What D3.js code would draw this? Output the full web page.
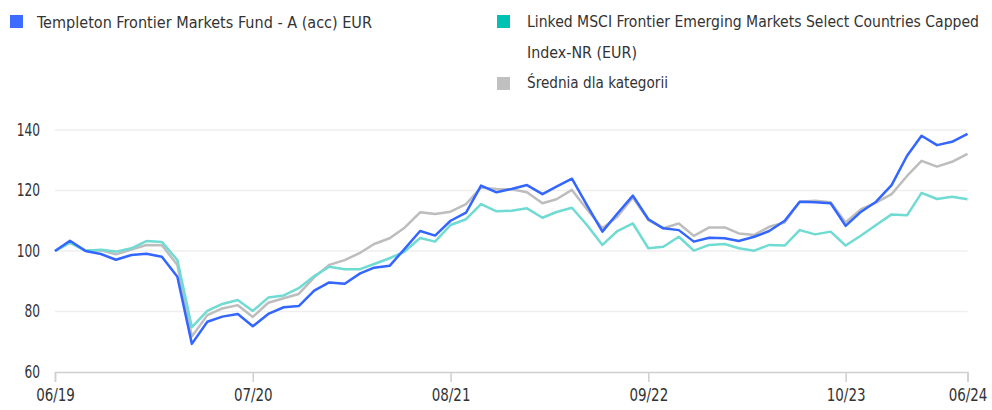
<!DOCTYPE html>
<html>
<head>
<meta charset="utf-8">
<script src="https://cdn.jsdelivr.net/npm/d3@7"></script>
<style>
  body { margin: 0; background: #fff; }
  text { font-family: "DejaVu Sans Condensed", "Liberation Sans Narrow", sans-serif; fill: #333; }
</style>
</head>
<body>
<div id="chart"></div>
<script>
"use strict"

// DATA (monthly, 06/2019 .. 06/2024)
let startMonth = new Date(2019, 5, 1);
let fund = [100, 103.4, 100.0, 99.0, 97.1, 98.7, 99.1, 98.1, 91.5, 69.3,
  76.6, 78.3, 79.2, 75.1, 79.2, 81.4, 81.8, 86.9, 89.6, 89.2,
  92.6, 94.5, 95.1, 100.7, 106.6, 105.1, 110.0, 112.7, 121.6, 119.4,
  120.5, 121.8, 118.8, 121.3, 123.9, 115.2, 106.4, 112.4, 118.3, 110.5,
  107.5, 106.9, 103.1, 104.4, 104.2, 103.3, 104.7, 106.6, 110.0, 116.3,
  116.1, 115.8, 108.3, 113.0, 116.3, 121.8, 131.5, 138.1, 135.0, 136.1, 138.7];
let index = [100, 102.7, 100.1, 100.4, 99.8, 100.9, 103.3, 103.0, 97.0, 74.8,
  80.2, 82.5, 83.8, 80.2, 84.6, 85.3, 87.7, 91.7, 94.8, 94.0,
  94.0, 95.7, 97.6, 99.8, 104.3, 103.1, 108.6, 110.5, 115.5, 113.1,
  113.3, 114.1, 111.0, 112.9, 114.3, 108.6, 102.0, 106.6, 109.1, 100.9,
  101.4, 104.7, 100.1, 102.0, 102.3, 100.9, 100.1, 102.0, 101.8, 106.9,
  105.5, 106.4, 101.8, 105.1, 108.6, 112.1, 111.8, 119.2, 117.2, 117.9, 117.1];
let category = [100, 102.9, 100.2, 100.2, 98.9, 100.5, 102.0, 101.9, 95.4, 71.7,
  78.8, 81.0, 82.1, 78.2, 82.9, 84.4, 85.8, 91.3, 95.4, 97.0,
  99.4, 102.3, 104.2, 107.7, 112.8, 112.2, 113.0, 115.5, 121.0, 120.5,
  120.4, 119.4, 115.8, 117.1, 120.2, 113.8, 107.5, 111.3, 117.7, 110.2,
  107.5, 109.1, 105.0, 107.8, 107.8, 105.8, 105.3, 108.0, 109.4, 116.3,
  116.6, 116.1, 109.4, 113.8, 116.0, 118.8, 124.8, 129.8, 127.9, 129.5, 132.1];

let legendLines = ["Templeton Frontier Markets Fund - A (acc) EUR",
  "Linked MSCI Frontier Emerging Markets Select Countries Capped",
  "Index-NR (EUR)",
  "Średnia dla kategorii"];
let yTicks = [60, 80, 100, 120, 140];
let xTickMonths = [0, 13, 26, 39, 52, 60];

// DRAWING CONFIG
let svgWidth = 992;
let svgHeight = 410;
let marginLeft = 55;
let marginRight = 24;
let marginTop = 130;
let marginBottom = 38;

let lineColors = ["#3366ff", "#6fdbd3", "#bdbdbd"];
let legendColors = ["#3d6bff", "#00c2b2", "#c0c0c0"];

let svg = d3.select("#chart")
  .append("svg")
  .attr("width", svgWidth)
  .attr("height", svgHeight);

function monthDate(i) {
  return d3.timeMonth.offset(startMonth, i);
}

let xScale = d3.scaleTime()
  .domain([monthDate(0), monthDate(60)])
  .range([marginLeft, svgWidth - marginRight - 0.5]);

let yScale = d3.scaleLinear()
  .domain([60, 140])
  .range([svgHeight - marginBottom, marginTop]);

// gridlines
svg.selectAll("line.grid")
  .data(yTicks.slice(1))
  .join("line")
  .attr("class", "grid")
  .attr("x1", marginLeft)
  .attr("x2", xScale(monthDate(60)))
  .attr("y1", d => yScale(d))
  .attr("y2", d => yScale(d))
  .attr("stroke", "#efefef")
  .attr("stroke-width", 1.5);

// y labels (squeezed a bit, the original font is narrow)
svg.selectAll("g.ylab")
  .data(yTicks)
  .join("g")
  .attr("class", "ylab")
  .attr("transform", d => "translate(40," + yScale(d) + ") scale(0.8,1)")
  .append("text")
  .attr("text-anchor", "end")
  .attr("dominant-baseline", "central")
  .style("font-size", "17px")
  .text(d => d);

// x axis
let xAxis = d3.axisBottom(xScale)
  .tickValues(xTickMonths.map(monthDate))
  .tickFormat(d3.timeFormat("%m/%y"))
  .tickSize(10)
  .tickPadding(7);

let gx = svg.append("g")
  .attr("transform", "translate(0," + yScale(60) + ")")
  .call(xAxis);
gx.select(".domain").attr("stroke", "#cfcfcf").attr("stroke-width", 1.5);
gx.selectAll(".tick line").attr("stroke", "#cfcfcf").attr("stroke-width", 1.5);
gx.selectAll(".tick text")
  .style("font-size", "17px")
  .style("font-family", "\"DejaVu Sans Condensed\", sans-serif")
  .attr("fill", "#333")
  .attr("transform", "scale(0.88,1)");

// lines
let line = d3.line()
  .x((d, i) => xScale(monthDate(i)))
  .y(d => yScale(d));

let allSeries = [category, index, fund];
let allColors = [lineColors[2], lineColors[1], lineColors[0]];
svg.selectAll("path.series")
  .data(allSeries)
  .join("path")
  .attr("class", "series")
  .attr("d", d => line(d))
  .attr("fill", "none")
  .attr("stroke", (d, i) => allColors[i])
  .attr("stroke-width", 2.5)
  .attr("stroke-linejoin", "round");

// LEGEND
let legendSquares = [[10, 15, 0], [497, 15, 1], [497, 77, 2]];
svg.selectAll("rect.key")
  .data(legendSquares)
  .join("rect")
  .attr("class", "key")
  .attr("x", d => d[0])
  .attr("y", d => d[1])
  .attr("width", 13)
  .attr("height", 13)
  .attr("fill", d => legendColors[d[2]]);

// x, y, width, font size
let legendText = [[37, 22, 335, 16.2], [527, 22, 452, 15.5], [527, 52, 110, 16], [527, 83, 141, 15.5]];
svg.selectAll("text.legend")
  .data(legendText)
  .join("text")
  .attr("class", "legend")
  .attr("x", d => d[0])
  .attr("y", d => d[1])
  .attr("dominant-baseline", "central")
  .attr("textLength", d => d[2])
  .attr("lengthAdjust", "spacingAndGlyphs")
  .style("font-size", d => d[3] + "px")
  .text((d, i) => legendLines[i]);
</script>
</body>
</html>
